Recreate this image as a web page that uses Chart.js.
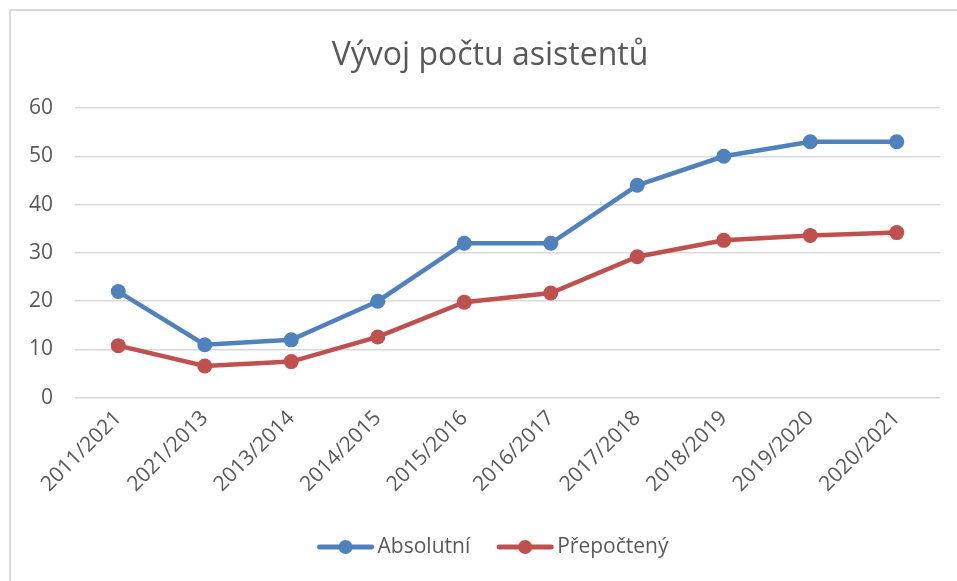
<!DOCTYPE html>
<html>
<head>
<meta charset="utf-8">
<script src="https://cdn.jsdelivr.net/npm/chart.js@4.4.1/dist/chart.umd.min.js"></script>
<style>
  html, body { margin: 0; padding: 0; background: #fff; }
  #frame { position: absolute; left: 9px; top: 9px; width: 960px; height: 590px;
           border-top: 2px solid #d9d9d9; border-left: 2px solid #d9d9d9; }
  #wrap { position: absolute; left: 0; top: 0; width: 957px; height: 581px; }
</style>
</head>
<body>
<div id="frame"></div>
<div id="wrap"><canvas id="chartAsistenti"></canvas></div>
<script>
const roky = ['2011/2021', '2021/2013', '2013/2014', '2014/2015', '2015/2016',
  '2016/2017', '2017/2018', '2018/2019', '2019/2020', '2020/2021'];
const absolutni = [22, 11, 12, 20, 32, 32, 44, 50, 53, 53];
const prepocteny = [10.8, 6.6, 7.5, 12.6, 19.8, 21.7, 29.2, 32.6, 33.6, 34.2];
const osaY = [0, 10, 20, 30, 40, 50, 60];
const nadpis = 'Vývoj počtu asistentů';

const textColor = '#595959';
const font = "'Open Sans', 'DejaVu Sans', sans-serif";

// nadpis – v originále je posunutý doprava od středu plátna
const nadpisPlugin = {
  id: 'nadpis',
  afterDraw(chart) {
    const ctx = chart.ctx;
    ctx.save();
    ctx.font = '32px ' + font;
    ctx.fillStyle = textColor;
    ctx.textAlign = 'center';
    ctx.textBaseline = 'middle';
    ctx.fillText(nadpis, 490, 56);
    ctx.restore();
  }
};

// legenda: čára s bodem + text, kreslená ručně pod grafem
const legendaPlugin = {
  id: 'legenda',
  afterDraw(chart) {
    const ctx = chart.ctx;
    const y = 547;
    const lineW = 56, gapText = 4, gapItem = 27;
    ctx.save();
    ctx.font = '21px ' + font;
    const items = chart.data.datasets.map((ds) => ({ ds, w: ctx.measureText(ds.label).width }));
    const total = items.reduce((s, it) => s + lineW + gapText + it.w, 0) + gapItem * (items.length - 1);
    let x = 493 - total / 2;
    items.forEach((it) => {
      ctx.strokeStyle = it.ds.borderColor;
      ctx.lineWidth = 5;
      ctx.lineCap = 'round';
      ctx.beginPath();
      ctx.moveTo(x + 2, y);
      ctx.lineTo(x + lineW - 2, y);
      ctx.stroke();
      ctx.fillStyle = it.ds.borderColor;
      ctx.beginPath();
      ctx.arc(x + lineW / 2, y, 7, 0, Math.PI * 2);
      ctx.fill();
      ctx.fillStyle = textColor;
      ctx.textBaseline = 'middle';
      ctx.textAlign = 'left';
      ctx.fillText(it.ds.label, x + lineW + gapText, y);
      x += lineW + gapText + it.w + gapItem;
    });
    ctx.restore();
  }
};

new Chart(document.getElementById('chartAsistenti'), {
  type: 'line',
  data: {
    labels: roky,
    datasets: [
      { label: 'Absolutní', data: absolutni, borderColor: '#4F81BD', backgroundColor: '#4F81BD',
        borderWidth: 4.5, pointRadius: 7.5, pointHoverRadius: 7.5, pointBorderWidth: 0, tension: 0 },
      { label: 'Přepočtený', data: prepocteny, borderColor: '#C0504D', backgroundColor: '#C0504D',
        borderWidth: 4.5, pointRadius: 7.5, pointHoverRadius: 7.5, pointBorderWidth: 0, tension: 0 }
    ]
  },
  options: {
    responsive: true,
    maintainAspectRatio: false,
    animation: false,
    layout: { padding: { top: 108, left: 7, right: 17, bottom: 84 } },
    plugins: {
      legend: { display: false },
      tooltip: { enabled: false },
      title: { display: false }
    },
    scales: {
      x: {
        offset: true,
        grid: { display: false },
        border: { display: false },
        ticks: { color: textColor, font: { family: font, size: 21 }, maxRotation: 45, minRotation: 45, padding: 0 }
      },
      y: {
        min: 0,
        max: 60,
        afterBuildTicks: (axis) => { axis.ticks = osaY.map((v) => ({ value: v })); },
        grid: { color: '#d9d9d9', lineWidth: 1.5, drawTicks: false },
        border: { display: false },
        ticks: { color: textColor, font: { family: font, size: 21 }, padding: 22 }
      }
    }
  },
  plugins: [nadpisPlugin, legendaPlugin]
});
</script>
</body>
</html>
